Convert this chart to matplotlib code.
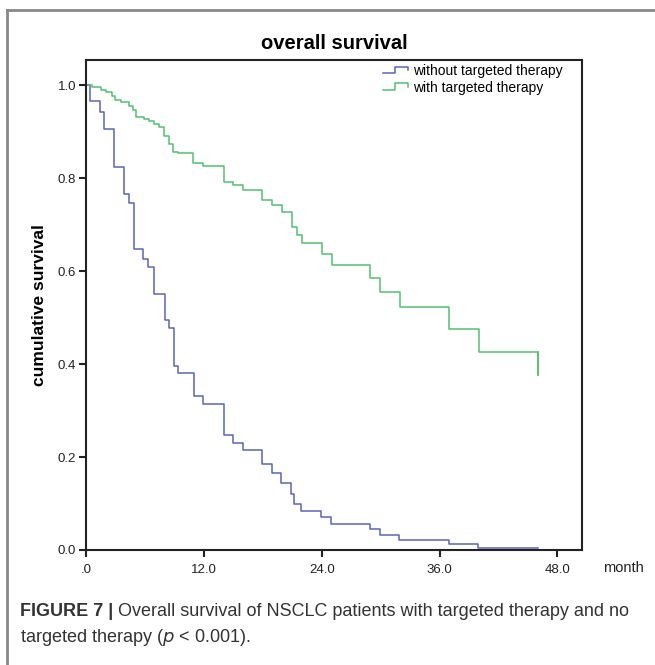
import numpy as np
import matplotlib
matplotlib.use("Agg")
import matplotlib.pyplot as plt
from matplotlib.lines import Line2D
from matplotlib.legend_handler import HandlerBase

plt.rcParams['font.family'] = ['Liberation Sans', 'DejaVu Sans']

# survival curves (month, survival after the step)
months_without = [0, 0.4, 1.4, 1.85, 2.9, 3.9, 4.4, 4.9, 5.8, 6.35, 6.95, 8.0, 8.5, 9.0, 9.4,
                  10.95, 11.95, 14.0, 14.95, 15.95, 17.9, 18.9, 19.9, 20.9, 21.2, 21.9, 23.9,
                  24.9, 28.9, 29.9, 31.9, 37.0, 39.9, 46.0]
surv_without = [1.0, 0.966, 0.943, 0.905, 0.824, 0.765, 0.746, 0.647, 0.627, 0.608, 0.551, 0.495,
                0.477, 0.396, 0.381, 0.332, 0.315, 0.247, 0.231, 0.215, 0.185, 0.166, 0.145, 0.12,
                0.10, 0.083, 0.07, 0.055, 0.045, 0.032, 0.022, 0.012, 0.005, 0.004]

months_with = [0, 0.6, 1.5, 2.0, 2.6, 3.0, 3.6, 4.4, 4.8, 5.1, 5.9, 6.4, 6.9, 7.4, 7.9, 8.4, 8.9,
               9.4, 10.94, 11.96, 14.0, 14.95, 15.97, 17.9, 18.9, 19.95, 20.96, 21.47, 21.98,
               24.0, 25.0, 28.95, 29.97, 32.0, 37.0, 40.06, 46.0]
surv_with = [1.0, 0.995, 0.989, 0.985, 0.977, 0.968, 0.964, 0.955, 0.946, 0.931, 0.927, 0.923,
             0.916, 0.909, 0.89, 0.873, 0.857, 0.853, 0.832, 0.826, 0.791, 0.785, 0.774, 0.753,
             0.742, 0.728, 0.695, 0.677, 0.66, 0.637, 0.614, 0.586, 0.556, 0.523, 0.475, 0.426,
             0.376]

series_labels = ['without targeted therapy', 'with targeted therapy']
x_ticks = [0, 12, 24, 36, 48]
x_ticklabels = ['.0', '12.0', '24.0', '36.0', '48.0']
y_ticks = [0.0, 0.2, 0.4, 0.6, 0.8, 1.0]

blue = '#5a64b4'
green = '#52c070'


# little step symbol like the SPSS legend
class StepHandler(HandlerBase):
    def create_artists(self, legend, orig_handle, xdescent, ydescent, width, height, fontsize, trans):
        xs = np.array([0, 0.45, 0.45, 1.0, 1.0]) * width - xdescent
        ys = np.array([0.2, 0.2, 0.85, 0.85, 0.45]) * height - ydescent
        l = Line2D(xs, ys, color=orig_handle.get_color(), lw=1.1)
        l.set_transform(trans)
        return [l]


fig = plt.figure(figsize=(6.55, 6.65), dpi=100)
ax = fig.add_axes([86 / 655, 1 - 550 / 665, 496 / 655, 490 / 665])

l1, = ax.step(months_without, surv_without, where='post', color=blue, lw=1.1)
l2, = ax.step(months_with, surv_with, where='post', color=green, lw=1.1)
# final drop of the green curve
ax.plot([months_with[-1], months_with[-1]], [surv_with[-2], surv_with[-1]], color=green, lw=1.1)

ax.set_xlim(0, 50.5)
ax.set_ylim(0, 1.054)
ax.set_xticks(x_ticks)
ax.set_xticklabels(x_ticklabels)
ax.set_yticks(y_ticks)
ax.set_yticklabels(['%.1f' % v for v in y_ticks])
ax.tick_params(direction='out', length=5, width=1.5, labelsize=9.5, colors='#222222', pad=2)
ax.tick_params(axis='x', pad=5)
for s in ax.spines.values():
    s.set_linewidth(1.5)
    s.set_color('#222222')

ax.set_title('overall survival', fontsize=14.5, fontweight='bold', pad=8)
ax.set_ylabel('cumulative survival', fontsize=12.5, fontweight='bold', labelpad=8)
fig.text(623 / 655, 1 - 568 / 665, 'month', fontsize=10.5, ha='center', va='center', color='#222222')

ax.legend([l1, l2], series_labels, handler_map={Line2D: StepHandler()}, loc='upper left',
          bbox_to_anchor=(0.58, 1.012), frameon=False, fontsize=10, handlelength=1.8,
          handletextpad=0.3, labelspacing=0.2, borderaxespad=0.3)

# grey frame of the figure panel
fig.add_artist(Line2D([7 / 655, 1], [1 - 10 / 665, 1 - 10 / 665], color='#888888', lw=2))
fig.add_artist(Line2D([7 / 655, 7 / 655], [0, 1 - 10 / 665], color='#888888', lw=2))

# caption
cap = fig.text(20 / 655, 1 - 612 / 665, 'FIGURE 7 |', fontsize=13, fontweight='bold',
               color='#333333', va='center')
ax.annotate(' Overall survival of NSCLC patients with targeted therapy and no', xy=(1, 0.5),
            xycoords=cap, va='center', fontsize=13, color='#333333')
fig.text(20 / 655, 1 - 638 / 665, 'targeted therapy ($p$ < 0.001).', fontsize=13,
         color='#333333', va='center')

fig.savefig('out.png', dpi=100)
